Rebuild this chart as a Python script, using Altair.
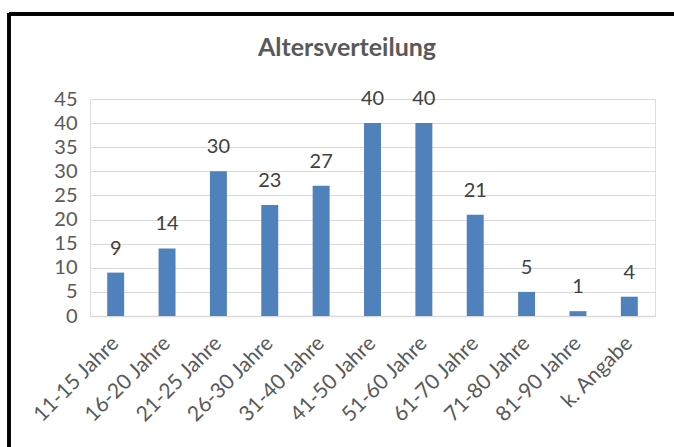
import altair as alt
import pandas as pd

categories = ["11-15 Jahre", "16-20 Jahre", "21-25 Jahre", "26-30 Jahre", "31-40 Jahre",
              "41-50 Jahre", "51-60 Jahre", "61-70 Jahre", "71-80 Jahre", "81-90 Jahre", "k. Angabe"]
values = [9, 14, 30, 23, 27, 40, 40, 21, 5, 1, 4]
y_ticks = [0, 5, 10, 15, 20, 25, 30, 35, 40, 45]
title_text = ["Altersverteilung"]

df = pd.DataFrame({"cat": categories, "val": values})
tdf = pd.DataFrame({"t": title_text})

FONT = "Lato"

x = alt.X("cat:N", sort=categories, title=None,
          scale=alt.Scale(paddingInner=0.67, paddingOuter=0.335),
          axis=alt.Axis(labelAngle=-45, labelAlign="right", labelBaseline="middle",
                        labelFontSize=21, labelColor="#595959", labelFont=FONT,
                        labelPadding=24, ticks=False, domain=True, domainColor="#D9D9D9",
                        domainWidth=1.5, grid=False, labelOverlap=False))
y = alt.Y("val:Q", title=None,
          scale=alt.Scale(domain=[0, 45], nice=False),
          axis=alt.Axis(values=y_ticks, labelFontSize=20, labelColor="#595959", labelFont=FONT,
                        labelPadding=13, ticks=False, domain=False, grid=True,
                        gridColor="#D9D9D9", gridWidth=1.2, labelOverlap=False))

base = alt.Chart(df).encode(x=x, y=y)
bars = base.mark_bar(color="#4F81BD")
labels = base.mark_text(baseline="bottom", dy=-14, fontSize=20, color="#404040",
                        font=FONT).encode(text="val:Q")

title = alt.Chart(tdf).mark_text(fontSize=25, font=FONT, fontWeight="bold", color="#595959",
                                 baseline="middle", align="center").encode(
    x=alt.value(257), y=alt.value(-51), text="t:N")

border_top = alt.Chart(df).mark_rule(color="black", strokeWidth=2.5).encode(
    x=alt.value(-81), x2=alt.value(600), y=alt.value(-85))
border_left = alt.Chart(df).mark_rule(color="black", strokeWidth=2.5).encode(
    x=alt.value(-81), y=alt.value(-86), y2=alt.value(360))

chart = alt.layer(bars, labels, title, border_top, border_left).properties(
    width=565, height=217,
    autosize=alt.AutoSizeParams(type="none"),
    padding={"left": 90, "top": 99, "right": 19, "bottom": 131},
).configure_view(stroke=None).configure(background="white")

chart.save("out.html", embed_options={"renderer": "svg", "actions": False})
